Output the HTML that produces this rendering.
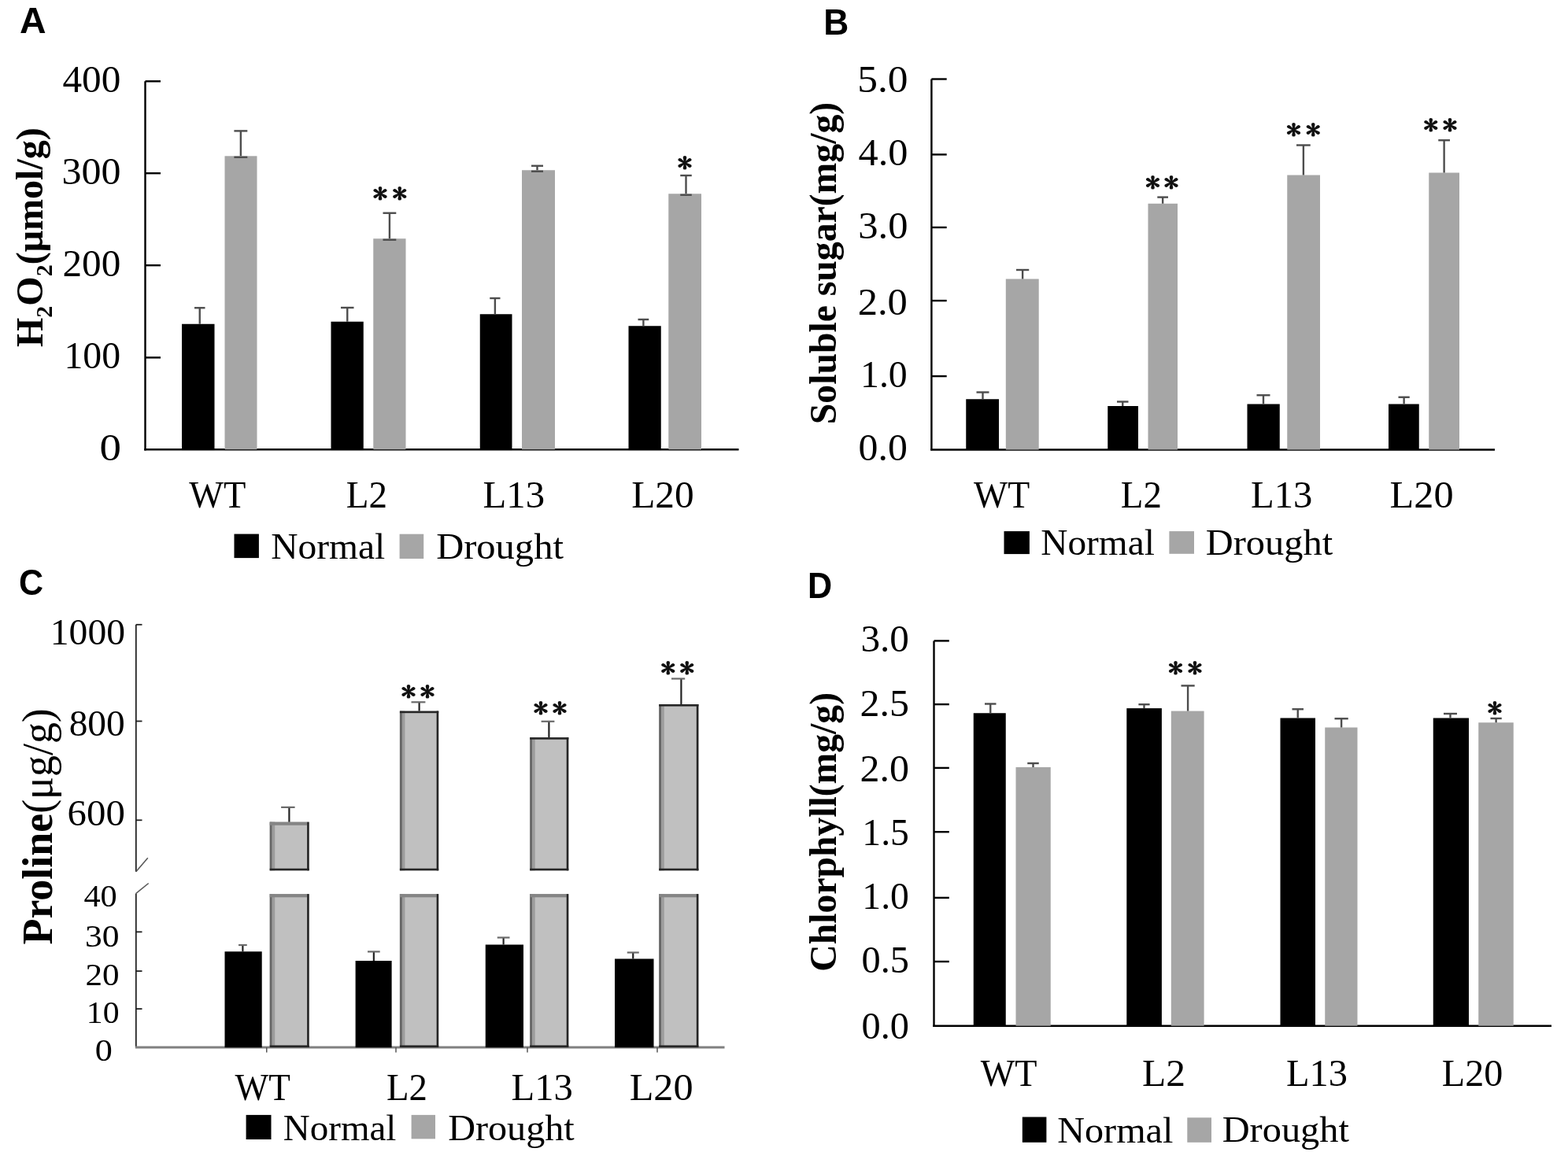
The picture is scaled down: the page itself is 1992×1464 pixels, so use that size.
<!DOCTYPE html>
<html><head><meta charset="utf-8"><title>Figure</title>
<style>html,body{margin:0;padding:0;background:#fff;overflow:hidden;width:1992px;height:1464px;}svg{display:block;}</style>
</head><body>
<svg width="1992" height="1464" viewBox="0 0 1992 1464">
<rect width="1992" height="1464" fill="#fff"/>
<text transform="translate(25.10 41.90) scale(1.0000 1)" font-family="Liberation Sans, sans-serif" font-size="46.5" font-weight="bold">A</text>
<line x1="184.50" y1="103.30" x2="184.50" y2="572.40" stroke="#000" stroke-width="2.4" />
<line x1="183.30" y1="571.20" x2="938.50" y2="571.20" stroke="#000" stroke-width="2.4" />
<line x1="184.50" y1="103.30" x2="204.00" y2="103.30" stroke="#000" stroke-width="2.4" />
<line x1="184.50" y1="220.20" x2="204.00" y2="220.20" stroke="#000" stroke-width="2.4" />
<line x1="184.50" y1="337.20" x2="204.00" y2="337.20" stroke="#000" stroke-width="2.4" />
<line x1="184.50" y1="454.40" x2="204.00" y2="454.40" stroke="#000" stroke-width="2.4" />
<text transform="translate(79.47 116.70) scale(1.0261 1)" font-family="Liberation Serif, serif" font-size="48">400</text>
<text transform="translate(78.42 234.00) scale(1.0412 1)" font-family="Liberation Serif, serif" font-size="48">300</text>
<text transform="translate(79.45 350.60) scale(1.0265 1)" font-family="Liberation Serif, serif" font-size="48">200</text>
<text transform="translate(81.42 468.20) scale(0.9955 1)" font-family="Liberation Serif, serif" font-size="48">100</text>
<text transform="translate(126.51 584.70) scale(1.1450 1)" font-family="Liberation Serif, serif" font-size="48">0</text>
<rect x="231.00" y="411.75" width="41.50" height="159.45" fill="#000" />
<line x1="253.75" y1="391.25" x2="253.75" y2="411.75" stroke="#4d4d4d" stroke-width="2.4" />
<line x1="247.00" y1="391.25" x2="260.50" y2="391.25" stroke="#4d4d4d" stroke-width="2.4" />
<rect x="285.50" y="198.30" width="41.00" height="372.90" fill="#a6a6a6" />
<line x1="305.85" y1="166.40" x2="305.85" y2="198.30" stroke="#4d4d4d" stroke-width="2.4" />
<line x1="297.40" y1="166.40" x2="314.30" y2="166.40" stroke="#4d4d4d" stroke-width="2.4" />
<line x1="297.40" y1="199.80" x2="314.30" y2="199.80" stroke="#4d4d4d" stroke-width="2.4" />
<rect x="420.50" y="408.75" width="41.25" height="162.45" fill="#000" />
<line x1="441.25" y1="391.00" x2="441.25" y2="408.75" stroke="#4d4d4d" stroke-width="2.4" />
<line x1="433.00" y1="391.00" x2="449.50" y2="391.00" stroke="#4d4d4d" stroke-width="2.4" />
<rect x="474.25" y="303.25" width="41.25" height="267.95" fill="#a6a6a6" />
<line x1="494.90" y1="270.75" x2="494.90" y2="303.25" stroke="#4d4d4d" stroke-width="2.4" />
<line x1="486.50" y1="270.75" x2="503.30" y2="270.75" stroke="#4d4d4d" stroke-width="2.4" />
<line x1="486.50" y1="304.75" x2="503.30" y2="304.75" stroke="#4d4d4d" stroke-width="2.4" />
<rect x="609.75" y="399.25" width="40.75" height="171.95" fill="#000" />
<line x1="628.88" y1="379.00" x2="628.88" y2="399.25" stroke="#4d4d4d" stroke-width="2.4" />
<line x1="622.25" y1="379.00" x2="635.50" y2="379.00" stroke="#4d4d4d" stroke-width="2.4" />
<rect x="663.00" y="216.25" width="42.00" height="354.95" fill="#a6a6a6" />
<line x1="682.50" y1="210.75" x2="682.50" y2="216.25" stroke="#4d4d4d" stroke-width="2.4" />
<line x1="675.00" y1="210.75" x2="690.00" y2="210.75" stroke="#4d4d4d" stroke-width="2.4" />
<line x1="675.00" y1="217.75" x2="690.00" y2="217.75" stroke="#4d4d4d" stroke-width="2.4" />
<rect x="798.50" y="414.25" width="41.25" height="156.95" fill="#000" />
<line x1="817.38" y1="406.00" x2="817.38" y2="414.25" stroke="#4d4d4d" stroke-width="2.4" />
<line x1="810.50" y1="406.00" x2="824.25" y2="406.00" stroke="#4d4d4d" stroke-width="2.4" />
<rect x="849.25" y="246.25" width="41.75" height="324.95" fill="#a6a6a6" />
<line x1="871.50" y1="223.00" x2="871.50" y2="246.25" stroke="#4d4d4d" stroke-width="2.4" />
<line x1="864.25" y1="223.00" x2="878.75" y2="223.00" stroke="#4d4d4d" stroke-width="2.4" />
<line x1="864.25" y1="247.75" x2="878.75" y2="247.75" stroke="#4d4d4d" stroke-width="2.4" />
<text transform="translate(483.00 244.80) scale(0.93 0.82)" font-family="IPAGothic, sans-serif" font-size="41" font-weight="bold" text-anchor="middle" dominant-baseline="central" fill="#111">*</text>
<text transform="translate(507.70 244.80) scale(0.93 0.82)" font-family="IPAGothic, sans-serif" font-size="41" font-weight="bold" text-anchor="middle" dominant-baseline="central" fill="#111">*</text>
<text transform="translate(870.00 206.20) scale(0.93 0.82)" font-family="IPAGothic, sans-serif" font-size="41" font-weight="bold" text-anchor="middle" dominant-baseline="central" fill="#111">*</text>
<text transform="translate(240.20 644.70) scale(0.9447 1)" font-family="Liberation Serif, serif" font-size="49.2">WT</text>
<text transform="translate(439.84 644.70) scale(0.9569 1)" font-family="Liberation Serif, serif" font-size="49.2">L2</text>
<text transform="translate(613.51 645.00) scale(0.9908 1)" font-family="Liberation Serif, serif" font-size="49.2">L13</text>
<text transform="translate(802.20 645.00) scale(1.0039 1)" font-family="Liberation Serif, serif" font-size="49.2">L20</text>
<rect x="297.50" y="678.60" width="31.40" height="30.50" fill="#000" />
<text transform="translate(344.18 710.00) scale(1.0214 1)" font-family="Liberation Serif, serif" font-size="46.5">Normal</text>
<rect x="507.60" y="678.70" width="30.60" height="31.30" fill="#a6a6a6" />
<text transform="translate(554.16 710.40) scale(1.0435 1)" font-family="Liberation Serif, serif" font-size="46.5">Drought</text>
<text transform="translate(54.00 441.10) rotate(-90) scale(1.0018 1)" font-family="Liberation Serif, serif" font-size="48" font-weight="bold">H<tspan font-size="30" dy="12">2</tspan><tspan dy="-12">O</tspan><tspan font-size="30" dy="12">2</tspan><tspan dy="-12">(μmol/g)</tspan></text>
<text transform="translate(1046.24 44.00) scale(0.9536 1)" font-family="Liberation Sans, sans-serif" font-size="46.5" font-weight="bold">B</text>
<line x1="1183.40" y1="100.50" x2="1183.40" y2="572.30" stroke="#000" stroke-width="2.4" />
<line x1="1182.20" y1="571.50" x2="1899.00" y2="571.50" stroke="#000" stroke-width="2.4" />
<line x1="1183.40" y1="100.50" x2="1202.70" y2="100.50" stroke="#000" stroke-width="2.4" />
<line x1="1183.40" y1="196.40" x2="1202.70" y2="196.40" stroke="#000" stroke-width="2.4" />
<line x1="1183.40" y1="289.00" x2="1202.70" y2="289.00" stroke="#000" stroke-width="2.4" />
<line x1="1183.40" y1="382.10" x2="1202.70" y2="382.10" stroke="#000" stroke-width="2.4" />
<line x1="1183.40" y1="478.10" x2="1202.70" y2="478.10" stroke="#000" stroke-width="2.4" />
<text transform="translate(1089.18 116.90) scale(1.0727 1)" font-family="Liberation Serif, serif" font-size="48">5.0</text>
<text transform="translate(1090.55 210.30) scale(1.0491 1)" font-family="Liberation Serif, serif" font-size="48">4.0</text>
<text transform="translate(1090.29 303.00) scale(1.0536 1)" font-family="Liberation Serif, serif" font-size="48">3.0</text>
<text transform="translate(1089.69 399.50) scale(1.0536 1)" font-family="Liberation Serif, serif" font-size="48">2.0</text>
<text transform="translate(1093.01 492.10) scale(0.9963 1)" font-family="Liberation Serif, serif" font-size="48">1.0</text>
<text transform="translate(1090.62 585.40) scale(1.0375 1)" font-family="Liberation Serif, serif" font-size="48">0.0</text>
<rect x="1227.25" y="507.25" width="41.75" height="64.25" fill="#000" />
<line x1="1248.50" y1="498.50" x2="1248.50" y2="507.25" stroke="#4d4d4d" stroke-width="2.4" />
<line x1="1240.50" y1="498.50" x2="1256.50" y2="498.50" stroke="#4d4d4d" stroke-width="2.4" />
<rect x="1277.80" y="354.50" width="41.90" height="217.00" fill="#a6a6a6" />
<line x1="1299.12" y1="343.00" x2="1299.12" y2="354.50" stroke="#4d4d4d" stroke-width="2.4" />
<line x1="1291.00" y1="343.00" x2="1307.25" y2="343.00" stroke="#4d4d4d" stroke-width="2.4" />
<rect x="1407.25" y="516.00" width="38.75" height="55.50" fill="#000" />
<line x1="1426.25" y1="510.50" x2="1426.25" y2="516.00" stroke="#4d4d4d" stroke-width="2.4" />
<line x1="1419.00" y1="510.50" x2="1433.50" y2="510.50" stroke="#4d4d4d" stroke-width="2.4" />
<rect x="1458.50" y="258.75" width="37.50" height="312.75" fill="#a6a6a6" />
<line x1="1477.15" y1="250.60" x2="1477.15" y2="258.75" stroke="#4d4d4d" stroke-width="2.4" />
<line x1="1470.30" y1="250.60" x2="1484.00" y2="250.60" stroke="#4d4d4d" stroke-width="2.4" />
<rect x="1584.50" y="513.50" width="41.25" height="58.00" fill="#000" />
<line x1="1605.00" y1="502.25" x2="1605.00" y2="513.50" stroke="#4d4d4d" stroke-width="2.4" />
<line x1="1596.50" y1="502.25" x2="1613.50" y2="502.25" stroke="#4d4d4d" stroke-width="2.4" />
<rect x="1635.25" y="222.50" width="41.75" height="349.00" fill="#a6a6a6" />
<line x1="1655.88" y1="184.50" x2="1655.88" y2="222.50" stroke="#4d4d4d" stroke-width="2.4" />
<line x1="1647.00" y1="184.50" x2="1664.75" y2="184.50" stroke="#4d4d4d" stroke-width="2.4" />
<rect x="1764.00" y="513.50" width="38.75" height="58.00" fill="#000" />
<line x1="1783.62" y1="504.75" x2="1783.62" y2="513.50" stroke="#4d4d4d" stroke-width="2.4" />
<line x1="1776.50" y1="504.75" x2="1790.75" y2="504.75" stroke="#4d4d4d" stroke-width="2.4" />
<rect x="1815.25" y="219.50" width="38.75" height="352.00" fill="#a6a6a6" />
<line x1="1834.62" y1="178.25" x2="1834.62" y2="219.50" stroke="#4d4d4d" stroke-width="2.4" />
<line x1="1827.25" y1="178.25" x2="1842.00" y2="178.25" stroke="#4d4d4d" stroke-width="2.4" />
<text transform="translate(1464.50 230.70) scale(0.93 0.82)" font-family="IPAGothic, sans-serif" font-size="41" font-weight="bold" text-anchor="middle" dominant-baseline="central" fill="#111">*</text>
<text transform="translate(1488.10 230.70) scale(0.93 0.82)" font-family="IPAGothic, sans-serif" font-size="41" font-weight="bold" text-anchor="middle" dominant-baseline="central" fill="#111">*</text>
<text transform="translate(1643.50 163.90) scale(0.93 0.82)" font-family="IPAGothic, sans-serif" font-size="41" font-weight="bold" text-anchor="middle" dominant-baseline="central" fill="#111">*</text>
<text transform="translate(1668.25 163.90) scale(0.93 0.82)" font-family="IPAGothic, sans-serif" font-size="41" font-weight="bold" text-anchor="middle" dominant-baseline="central" fill="#111">*</text>
<text transform="translate(1817.75 157.95) scale(0.93 0.82)" font-family="IPAGothic, sans-serif" font-size="41" font-weight="bold" text-anchor="middle" dominant-baseline="central" fill="#111">*</text>
<text transform="translate(1842.00 157.95) scale(0.93 0.82)" font-family="IPAGothic, sans-serif" font-size="41" font-weight="bold" text-anchor="middle" dominant-baseline="central" fill="#111">*</text>
<text transform="translate(1237.10 645.00) scale(0.9316 1)" font-family="Liberation Serif, serif" font-size="49.2">WT</text>
<text transform="translate(1423.85 645.00) scale(0.9549 1)" font-family="Liberation Serif, serif" font-size="49.2">L2</text>
<text transform="translate(1589.01 645.00) scale(0.9882 1)" font-family="Liberation Serif, serif" font-size="49.2">L13</text>
<text transform="translate(1765.58 645.00) scale(1.0224 1)" font-family="Liberation Serif, serif" font-size="49.2">L20</text>
<rect x="1275.50" y="675.10" width="32.40" height="29.00" fill="#000" />
<text transform="translate(1322.28 704.50) scale(1.0179 1)" font-family="Liberation Serif, serif" font-size="46.5">Normal</text>
<rect x="1485.40" y="675.10" width="31.60" height="28.70" fill="#a6a6a6" />
<text transform="translate(1531.76 704.50) scale(1.0416 1)" font-family="Liberation Serif, serif" font-size="46.5">Drought</text>
<text transform="translate(1062.00 539.25) rotate(-90) scale(0.9837 1)" font-family="Liberation Serif, serif" font-size="48.5" font-weight="bold">Soluble sugar(mg/g)</text>
<text transform="translate(24.05 756.00) scale(0.9267 1)" font-family="Liberation Sans, sans-serif" font-size="46.5" font-weight="bold">C</text>
<line x1="172.80" y1="793.80" x2="172.80" y2="1107.70" stroke="#222" stroke-width="1.8" />
<line x1="172.80" y1="1135.40" x2="172.80" y2="1331.00" stroke="#222" stroke-width="1.8" />
<line x1="172.80" y1="1107.70" x2="187.80" y2="1090.20" stroke="#5a5a5a" stroke-width="1.6" />
<line x1="172.80" y1="1135.40" x2="188.70" y2="1122.50" stroke="#5a5a5a" stroke-width="1.6" />
<line x1="172.80" y1="793.80" x2="180.50" y2="793.80" stroke="#222" stroke-width="1.8" />
<line x1="172.80" y1="916.50" x2="180.50" y2="916.50" stroke="#222" stroke-width="1.8" />
<line x1="172.80" y1="1042.30" x2="180.50" y2="1042.30" stroke="#222" stroke-width="1.8" />
<line x1="172.80" y1="1184.30" x2="180.50" y2="1184.30" stroke="#222" stroke-width="1.8" />
<line x1="172.80" y1="1234.10" x2="180.50" y2="1234.10" stroke="#222" stroke-width="1.8" />
<line x1="172.80" y1="1282.10" x2="180.50" y2="1282.10" stroke="#222" stroke-width="1.8" />
<line x1="171.90" y1="1331.00" x2="920.50" y2="1331.00" stroke="#808080" stroke-width="3" />
<line x1="338.75" y1="1331.00" x2="338.75" y2="1337.50" stroke="#555" stroke-width="1.5" />
<line x1="503.00" y1="1331.00" x2="503.00" y2="1337.50" stroke="#555" stroke-width="1.5" />
<line x1="670.00" y1="1331.00" x2="670.00" y2="1337.50" stroke="#555" stroke-width="1.5" />
<line x1="835.00" y1="1331.00" x2="835.00" y2="1337.50" stroke="#555" stroke-width="1.5" />
<text transform="translate(63.80 818.50) scale(1.0241 1)" font-family="Liberation Serif, serif" font-size="46.5">1000</text>
<text transform="translate(87.66 935.30) scale(1.0197 1)" font-family="Liberation Serif, serif" font-size="46.5">800</text>
<text transform="translate(85.60 1049.20) scale(1.0500 1)" font-family="Liberation Serif, serif" font-size="46.5">600</text>
<text transform="translate(106.43 1152.00) scale(1.0730 1)" font-family="Liberation Serif, serif" font-size="39.5">40</text>
<text transform="translate(108.09 1203.30) scale(1.1028 1)" font-family="Liberation Serif, serif" font-size="39.5">30</text>
<text transform="translate(108.52 1251.60) scale(1.0917 1)" font-family="Liberation Serif, serif" font-size="39.5">20</text>
<text transform="translate(109.83 1299.60) scale(1.0571 1)" font-family="Liberation Serif, serif" font-size="39.5">10</text>
<text transform="translate(120.66 1347.60) scale(1.1188 1)" font-family="Liberation Serif, serif" font-size="39.5">0</text>
<rect x="285.50" y="1209.25" width="47.20" height="121.95" fill="#000" />
<line x1="308.38" y1="1201.00" x2="308.38" y2="1209.25" stroke="#222" stroke-width="2.2" />
<line x1="303.00" y1="1201.00" x2="313.75" y2="1201.00" stroke="#6a6a6a" stroke-width="2.2" />
<rect x="451.60" y="1221.00" width="46.00" height="110.20" fill="#000" />
<line x1="474.85" y1="1209.40" x2="474.85" y2="1221.00" stroke="#222" stroke-width="2.2" />
<line x1="467.00" y1="1209.40" x2="482.70" y2="1209.40" stroke="#6a6a6a" stroke-width="2.2" />
<rect x="616.75" y="1200.50" width="48.25" height="130.70" fill="#000" />
<line x1="639.62" y1="1191.50" x2="639.62" y2="1200.50" stroke="#222" stroke-width="2.2" />
<line x1="631.75" y1="1191.50" x2="647.50" y2="1191.50" stroke="#6a6a6a" stroke-width="2.2" />
<rect x="781.00" y="1218.50" width="49.50" height="112.70" fill="#000" />
<line x1="804.25" y1="1210.50" x2="804.25" y2="1218.50" stroke="#222" stroke-width="2.2" />
<line x1="796.75" y1="1210.50" x2="811.75" y2="1210.50" stroke="#6a6a6a" stroke-width="2.2" />
<rect x="342.70" y="1044.60" width="50.00" height="61.70" fill="#c0c0c0" />
<rect x="342.70" y="1044.60" width="3.00" height="61.70" fill="#666" />
<rect x="345.70" y="1044.60" width="3.50" height="61.70" fill="#9c9c9c" />
<rect x="342.70" y="1044.60" width="47.50" height="4.20" fill="#858585" />
<rect x="390.10" y="1044.60" width="2.60" height="61.70" fill="#262626" />
<rect x="342.70" y="1103.70" width="50.00" height="2.60" fill="#262626" />
<rect x="342.70" y="1136.10" width="50.00" height="194.90" fill="#c0c0c0" />
<rect x="342.70" y="1136.10" width="3.00" height="194.90" fill="#666" />
<rect x="345.70" y="1136.10" width="3.50" height="194.90" fill="#9c9c9c" />
<rect x="342.70" y="1136.10" width="47.50" height="4.20" fill="#858585" />
<rect x="390.10" y="1136.10" width="2.60" height="194.90" fill="#262626" />
<rect x="342.70" y="1328.40" width="50.00" height="2.60" fill="#262626" />
<line x1="367.40" y1="1025.90" x2="367.40" y2="1044.60" stroke="#222" stroke-width="2.2" />
<line x1="357.10" y1="1025.90" x2="374.60" y2="1025.90" stroke="#6a6a6a" stroke-width="2.2" />
<rect x="507.90" y="903.60" width="49.30" height="202.70" fill="#c0c0c0" />
<rect x="507.90" y="903.60" width="3.00" height="202.70" fill="#666" />
<rect x="510.90" y="903.60" width="3.50" height="202.70" fill="#9c9c9c" />
<rect x="507.90" y="903.60" width="49.30" height="2.60" fill="#262626" />
<rect x="554.60" y="903.60" width="2.60" height="202.70" fill="#262626" />
<rect x="507.90" y="1103.70" width="49.30" height="2.60" fill="#262626" />
<rect x="507.90" y="1136.10" width="49.30" height="194.90" fill="#c0c0c0" />
<rect x="507.90" y="1136.10" width="3.00" height="194.90" fill="#666" />
<rect x="510.90" y="1136.10" width="3.50" height="194.90" fill="#9c9c9c" />
<rect x="507.90" y="1136.10" width="46.80" height="4.20" fill="#858585" />
<rect x="554.60" y="1136.10" width="2.60" height="194.90" fill="#262626" />
<rect x="507.90" y="1328.40" width="49.30" height="2.60" fill="#262626" />
<line x1="532.60" y1="892.30" x2="532.60" y2="903.60" stroke="#222" stroke-width="2.2" />
<line x1="522.50" y1="892.30" x2="540.40" y2="892.30" stroke="#6a6a6a" stroke-width="2.2" />
<rect x="673.20" y="937.10" width="49.10" height="169.20" fill="#c0c0c0" />
<rect x="673.20" y="937.10" width="3.00" height="169.20" fill="#666" />
<rect x="676.20" y="937.10" width="3.50" height="169.20" fill="#9c9c9c" />
<rect x="673.20" y="937.10" width="49.10" height="2.60" fill="#262626" />
<rect x="719.70" y="937.10" width="2.60" height="169.20" fill="#262626" />
<rect x="673.20" y="1103.70" width="49.10" height="2.60" fill="#262626" />
<rect x="673.20" y="1136.10" width="49.10" height="194.90" fill="#c0c0c0" />
<rect x="673.20" y="1136.10" width="3.00" height="194.90" fill="#666" />
<rect x="676.20" y="1136.10" width="3.50" height="194.90" fill="#9c9c9c" />
<rect x="673.20" y="1136.10" width="46.60" height="4.20" fill="#858585" />
<rect x="719.70" y="1136.10" width="2.60" height="194.90" fill="#262626" />
<rect x="673.20" y="1328.40" width="49.10" height="2.60" fill="#262626" />
<line x1="697.40" y1="916.80" x2="697.40" y2="937.10" stroke="#222" stroke-width="2.2" />
<line x1="687.60" y1="916.80" x2="704.40" y2="916.80" stroke="#6a6a6a" stroke-width="2.2" />
<rect x="837.20" y="895.00" width="50.20" height="211.30" fill="#c0c0c0" />
<rect x="837.20" y="895.00" width="3.00" height="211.30" fill="#666" />
<rect x="840.20" y="895.00" width="3.50" height="211.30" fill="#9c9c9c" />
<rect x="837.20" y="895.00" width="50.20" height="2.60" fill="#262626" />
<rect x="884.80" y="895.00" width="2.60" height="211.30" fill="#262626" />
<rect x="837.20" y="1103.70" width="50.20" height="2.60" fill="#262626" />
<rect x="837.20" y="1136.10" width="50.20" height="194.90" fill="#c0c0c0" />
<rect x="837.20" y="1136.10" width="3.00" height="194.90" fill="#666" />
<rect x="840.20" y="1136.10" width="3.50" height="194.90" fill="#9c9c9c" />
<rect x="837.20" y="1136.10" width="47.70" height="4.20" fill="#858585" />
<rect x="884.80" y="1136.10" width="2.60" height="194.90" fill="#262626" />
<rect x="837.20" y="1328.40" width="50.20" height="2.60" fill="#262626" />
<line x1="865.40" y1="862.50" x2="865.40" y2="895.00" stroke="#222" stroke-width="2.2" />
<line x1="853.00" y1="862.50" x2="870.20" y2="862.50" stroke="#6a6a6a" stroke-width="2.2" />
<text transform="translate(519.00 877.70) scale(0.93 0.82)" font-family="IPAGothic, sans-serif" font-size="41" font-weight="bold" text-anchor="middle" dominant-baseline="central" fill="#111">*</text>
<text transform="translate(543.00 877.70) scale(0.93 0.82)" font-family="IPAGothic, sans-serif" font-size="41" font-weight="bold" text-anchor="middle" dominant-baseline="central" fill="#111">*</text>
<text transform="translate(687.00 899.00) scale(0.93 0.82)" font-family="IPAGothic, sans-serif" font-size="41" font-weight="bold" text-anchor="middle" dominant-baseline="central" fill="#111">*</text>
<text transform="translate(711.00 899.00) scale(0.93 0.82)" font-family="IPAGothic, sans-serif" font-size="41" font-weight="bold" text-anchor="middle" dominant-baseline="central" fill="#111">*</text>
<text transform="translate(848.70 848.10) scale(0.93 0.82)" font-family="IPAGothic, sans-serif" font-size="41" font-weight="bold" text-anchor="middle" dominant-baseline="central" fill="#111">*</text>
<text transform="translate(872.80 848.10) scale(0.93 0.82)" font-family="IPAGothic, sans-serif" font-size="41" font-weight="bold" text-anchor="middle" dominant-baseline="central" fill="#111">*</text>
<text transform="translate(298.60 1398.00) scale(0.9211 1)" font-family="Liberation Serif, serif" font-size="49.2">WT</text>
<text transform="translate(491.05 1398.00) scale(0.9510 1)" font-family="Liberation Serif, serif" font-size="49.2">L2</text>
<text transform="translate(649.51 1398.30) scale(0.9882 1)" font-family="Liberation Serif, serif" font-size="49.2">L13</text>
<text transform="translate(799.68 1398.30) scale(1.0211 1)" font-family="Liberation Serif, serif" font-size="49.2">L20</text>
<rect x="312.60" y="1416.90" width="31.90" height="31.10" fill="#000" />
<text transform="translate(359.79 1448.50) scale(1.0114 1)" font-family="Liberation Serif, serif" font-size="46.5">Normal</text>
<rect x="522.60" y="1416.90" width="30.40" height="30.40" fill="#a6a6a6" />
<text transform="translate(569.16 1449.00) scale(1.0364 1)" font-family="Liberation Serif, serif" font-size="46.5">Drought</text>
<text transform="translate(65.90 1200.49) rotate(-90) scale(0.9890 1)" font-family="Liberation Serif, serif" font-size="54.5"><tspan font-weight="bold">Proline</tspan>(μg/g)</text>
<text transform="translate(1026.12 759.90) scale(0.9276 1)" font-family="Liberation Sans, sans-serif" font-size="46.5" font-weight="bold">D</text>
<line x1="1186.50" y1="814.40" x2="1186.50" y2="1304.90" stroke="#000" stroke-width="2.4" />
<line x1="1185.30" y1="1303.70" x2="1971.00" y2="1303.70" stroke="#000" stroke-width="2.4" />
<line x1="1186.50" y1="814.40" x2="1205.80" y2="814.40" stroke="#000" stroke-width="2.4" />
<line x1="1186.50" y1="895.10" x2="1205.80" y2="895.10" stroke="#000" stroke-width="2.4" />
<line x1="1186.50" y1="975.90" x2="1205.80" y2="975.90" stroke="#000" stroke-width="2.4" />
<line x1="1186.50" y1="1057.20" x2="1205.80" y2="1057.20" stroke="#000" stroke-width="2.4" />
<line x1="1186.50" y1="1140.90" x2="1205.80" y2="1140.90" stroke="#000" stroke-width="2.4" />
<line x1="1186.50" y1="1222.00" x2="1205.80" y2="1222.00" stroke="#000" stroke-width="2.4" />
<text transform="translate(1093.45 827.80) scale(1.0250 1)" font-family="Liberation Serif, serif" font-size="48">3.0</text>
<text transform="translate(1092.52 909.60) scale(1.0411 1)" font-family="Liberation Serif, serif" font-size="48">2.5</text>
<text transform="translate(1092.52 992.60) scale(1.0411 1)" font-family="Liberation Serif, serif" font-size="48">2.0</text>
<text transform="translate(1095.33 1074.40) scale(0.9926 1)" font-family="Liberation Serif, serif" font-size="48">1.5</text>
<text transform="translate(1095.33 1154.70) scale(0.9926 1)" font-family="Liberation Serif, serif" font-size="48">1.0</text>
<text transform="translate(1094.49 1236.00) scale(1.0071 1)" font-family="Liberation Serif, serif" font-size="48">0.5</text>
<text transform="translate(1094.49 1320.00) scale(1.0071 1)" font-family="Liberation Serif, serif" font-size="48">0.0</text>
<rect x="1236.75" y="906.25" width="41.00" height="397.45" fill="#000" />
<line x1="1258.25" y1="894.50" x2="1258.25" y2="906.25" stroke="#4d4d4d" stroke-width="2.4" />
<line x1="1251.00" y1="894.50" x2="1265.50" y2="894.50" stroke="#4d4d4d" stroke-width="2.4" />
<rect x="1290.50" y="975.00" width="44.25" height="328.70" fill="#a6a6a6" />
<line x1="1312.50" y1="970.00" x2="1312.50" y2="975.00" stroke="#4d4d4d" stroke-width="2.4" />
<line x1="1305.25" y1="970.00" x2="1319.75" y2="970.00" stroke="#4d4d4d" stroke-width="2.4" />
<rect x="1431.30" y="900.10" width="44.60" height="403.60" fill="#000" />
<line x1="1453.50" y1="895.20" x2="1453.50" y2="900.10" stroke="#4d4d4d" stroke-width="2.4" />
<line x1="1446.40" y1="895.20" x2="1460.60" y2="895.20" stroke="#4d4d4d" stroke-width="2.4" />
<rect x="1487.80" y="903.60" width="41.80" height="400.10" fill="#a6a6a6" />
<line x1="1509.10" y1="871.40" x2="1509.10" y2="903.60" stroke="#4d4d4d" stroke-width="2.4" />
<line x1="1500.50" y1="871.40" x2="1517.70" y2="871.40" stroke="#4d4d4d" stroke-width="2.4" />
<rect x="1626.50" y="912.50" width="44.50" height="391.20" fill="#000" />
<line x1="1648.75" y1="901.25" x2="1648.75" y2="912.50" stroke="#4d4d4d" stroke-width="2.4" />
<line x1="1641.50" y1="901.25" x2="1656.00" y2="901.25" stroke="#4d4d4d" stroke-width="2.4" />
<rect x="1683.25" y="924.50" width="41.25" height="379.20" fill="#a6a6a6" />
<line x1="1704.12" y1="913.25" x2="1704.12" y2="924.50" stroke="#4d4d4d" stroke-width="2.4" />
<line x1="1695.50" y1="913.25" x2="1712.75" y2="913.25" stroke="#4d4d4d" stroke-width="2.4" />
<rect x="1820.75" y="912.50" width="45.25" height="391.20" fill="#000" />
<line x1="1842.50" y1="907.00" x2="1842.50" y2="912.50" stroke="#4d4d4d" stroke-width="2.4" />
<line x1="1834.00" y1="907.00" x2="1851.00" y2="907.00" stroke="#4d4d4d" stroke-width="2.4" />
<rect x="1878.25" y="918.25" width="44.50" height="385.45" fill="#a6a6a6" />
<line x1="1900.62" y1="913.00" x2="1900.62" y2="918.25" stroke="#4d4d4d" stroke-width="2.4" />
<line x1="1893.50" y1="913.00" x2="1907.75" y2="913.00" stroke="#4d4d4d" stroke-width="2.4" />
<text transform="translate(1493.50 848.10) scale(0.93 0.82)" font-family="IPAGothic, sans-serif" font-size="41" font-weight="bold" text-anchor="middle" dominant-baseline="central" fill="#111">*</text>
<text transform="translate(1518.10 848.10) scale(0.93 0.82)" font-family="IPAGothic, sans-serif" font-size="41" font-weight="bold" text-anchor="middle" dominant-baseline="central" fill="#111">*</text>
<text transform="translate(1899.00 898.70) scale(0.93 0.82)" font-family="IPAGothic, sans-serif" font-size="41" font-weight="bold" text-anchor="middle" dominant-baseline="central" fill="#111">*</text>
<text transform="translate(1245.70 1379.70) scale(0.9382 1)" font-family="Liberation Serif, serif" font-size="49.2">WT</text>
<text transform="translate(1450.99 1379.70) scale(1.0078 1)" font-family="Liberation Serif, serif" font-size="49.2">L2</text>
<text transform="translate(1634.02 1380.00) scale(0.9842 1)" font-family="Liberation Serif, serif" font-size="49.2">L13</text>
<text transform="translate(1831.82 1380.00) scale(0.9789 1)" font-family="Liberation Serif, serif" font-size="49.2">L20</text>
<rect x="1298.80" y="1419.50" width="30.60" height="32.30" fill="#000" />
<text transform="translate(1343.26 1451.50) scale(1.0357 1)" font-family="Liberation Serif, serif" font-size="46.5">Normal</text>
<rect x="1508.30" y="1420.30" width="30.70" height="31.50" fill="#a6a6a6" />
<text transform="translate(1552.66 1451.10) scale(1.0409 1)" font-family="Liberation Serif, serif" font-size="46.5">Drought</text>
<text transform="translate(1061.80 1234.67) rotate(-90) scale(0.9826 1)" font-family="Liberation Serif, serif" font-size="48.5" font-weight="bold">Chlorphyll(mg/g)</text>
</svg>
</body></html>
